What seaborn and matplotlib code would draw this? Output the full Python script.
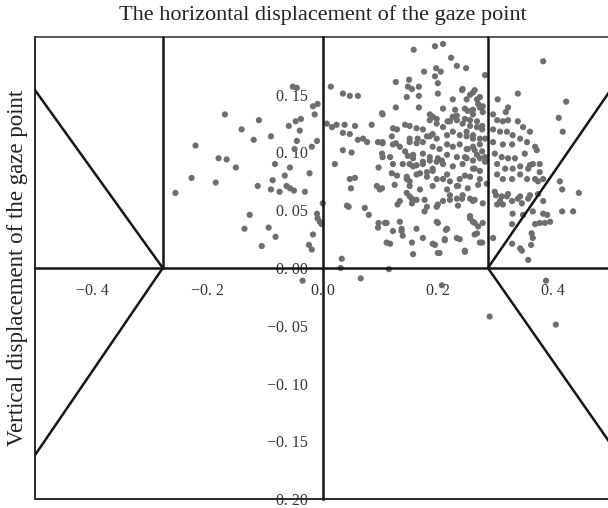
import matplotlib
matplotlib.use("Agg")
import matplotlib.pyplot as plt
import pandas as pd
import seaborn as sns

# ---------------- data ----------------
# gaze points left of the vertical axis
points_left = [(-0.052,0.157),(-0.045,0.156),(-0.170,0.133),(-0.111,0.128),(-0.141,0.120),(-0.120,0.111),
    (-0.090,0.114),(-0.059,0.123),(-0.047,0.127),(-0.038,0.129),(-0.040,0.119),(-0.045,0.110),(-0.017,0.140),
    (-0.009,0.142),(-0.014,0.133),(-0.010,0.110),(-0.019,0.105),(-0.221,0.106),(-0.181,0.095),(-0.167,0.094),
    (-0.151,0.087),(-0.083,0.090),(-0.057,0.087),(-0.066,0.080),(-0.023,0.082),(-0.228,0.078),(-0.186,0.074),
    (-0.113,0.071),(-0.087,0.076),(-0.090,0.068),(-0.075,0.066),(-0.063,0.071),(-0.057,0.069),(-0.050,0.067),
    (-0.031,0.066),(-0.256,0.065),(-0.127,0.046),(-0.094,0.035),(-0.136,0.034),(-0.082,0.027),(-0.106,0.019),
    (-0.017,0.029),(-0.024,0.020),(-0.019,0.016),(-0.010,0.047),(-0.009,0.043),(-0.005,0.040),(-0.002,0.038),
    (-0.049,0.103),(-0.035,-0.011)]

# gaze points between 0 and 0.12
points_center = [(0.014,0.157),(0.035,0.151),(0.047,0.149),(0.061,0.149),(0.007,0.125),(0.016,0.122),
    (0.024,0.124),(0.038,0.124),(0.056,0.123),(0.085,0.124),(0.035,0.117),(0.047,0.116),(0.061,0.111),
    (0.070,0.112),(0.077,0.109),(0.096,0.109),(0.104,0.108),(0.103,0.134),(0.035,0.102),(0.050,0.100),
    (0.021,0.090),(0.097,0.087),(0.047,0.077),(0.056,0.078),(0.049,0.069),(0.094,0.071),(0.099,0.068),
    (0.042,0.054),(0.045,0.053),(0.073,0.052),(0.080,0.046),(0.097,0.039),(0.111,0.039),(0.096,0.035),
    (0.122,0.032),(0.111,0.022),(0.117,0.021),(0.033,0.008),(0.000,0.056),(0.031,0.000),(0.066,-0.009)]

# dense cluster, 0.1 .. 0.29
points_cluster = [(0.209,0.194),(0.195,0.192),(0.158,0.189),(0.223,0.182),(0.233,0.175),(0.249,0.173),
    (0.197,0.173),(0.205,0.170),(0.176,0.170),(0.195,0.166),(0.127,0.161),(0.150,0.163),(0.148,0.157),
    (0.155,0.155),(0.167,0.157),(0.200,0.160),(0.146,0.148),(0.167,0.149),(0.200,0.151),(0.226,0.146),
    (0.127,0.139),(0.167,0.139),(0.209,0.138),(0.230,0.137),(0.186,0.133),(0.191,0.131),(0.198,0.129),
    (0.217,0.127),(0.226,0.131),(0.233,0.132),(0.282,0.167),(0.242,0.154),(0.256,0.150),(0.264,0.154),
    (0.273,0.148),(0.247,0.138),(0.261,0.137),(0.273,0.139),(0.104,0.133),(0.122,0.121),(0.129,0.120),
    (0.143,0.124),(0.151,0.123),(0.163,0.121),(0.174,0.120),(0.120,0.114),(0.127,0.108),(0.103,0.099),
    (0.117,0.096),(0.151,0.112),(0.165,0.112),(0.181,0.114),(0.191,0.116),(0.148,0.097),(0.157,0.095),
    (0.151,0.090),(0.163,0.089),(0.174,0.092),(0.186,0.093),(0.198,0.092),(0.207,0.093),(0.120,0.082),
    (0.129,0.080),(0.146,0.079),(0.151,0.075),(0.169,0.082),(0.181,0.083),(0.191,0.084),(0.209,0.077),
    (0.221,0.075),(0.233,0.071),(0.130,0.055),
    (0.186,0.128),(0.198,0.125),(0.209,0.122),(0.221,0.127),(0.233,0.128),(0.243,0.125),(0.256,0.128),
    (0.268,0.127),(0.277,0.120),(0.104,0.109),(0.122,0.107),(0.134,0.105),(0.151,0.109),(0.163,0.108),
    (0.174,0.109),(0.186,0.114),(0.198,0.112),(0.216,0.115),(0.226,0.118),(0.238,0.115),(0.250,0.118),
    (0.261,0.115),(0.273,0.112),(0.191,0.105),(0.203,0.103),(0.216,0.107),(0.226,0.105),(0.238,0.107),
    (0.250,0.103),(0.261,0.105),(0.273,0.107),(0.143,0.101),(0.157,0.098),(0.174,0.099),(0.186,0.096),
    (0.200,0.095),(0.216,0.098),(0.233,0.096),(0.250,0.095),(0.268,0.098),(0.282,0.096),(0.104,0.096),
    (0.122,0.090),(0.139,0.090),(0.157,0.088),(0.174,0.090),(0.191,0.086),(0.209,0.090),(0.226,0.088),
    (0.243,0.090),(0.261,0.086),(0.146,0.077),(0.163,0.081),(0.181,0.079),(0.198,0.077),(0.216,0.081),
    (0.238,0.077),(0.256,0.079),(0.273,0.077),(0.103,0.069),(0.125,0.072),(0.151,0.071),(0.169,0.068),
    (0.191,0.071),(0.216,0.068),(0.235,0.071),(0.252,0.069),(0.270,0.072),(0.134,0.058),(0.155,0.060),
    (0.177,0.059),(0.200,0.055),(0.221,0.059),(0.242,0.060),(0.264,0.059),(0.278,0.056),(0.108,0.039),
    (0.137,0.034),(0.163,0.034),(0.200,0.039),(0.216,0.034),(0.256,0.043),(0.264,0.039),(0.270,0.036),
    (0.278,0.039),(0.155,0.022),(0.174,0.026),(0.191,0.021),(0.212,0.025),(0.238,0.025),(0.264,0.029),
    (0.273,0.022),(0.157,0.012),(0.203,0.013),(0.247,0.014),
    (0.261,0.152),(0.268,0.146),(0.250,0.146),(0.243,0.155),(0.270,0.142),(0.278,0.140),(0.278,0.135),
    (0.252,0.136),(0.261,0.133),(0.247,0.129),(0.256,0.123),(0.268,0.122),(0.277,0.123),(0.250,0.114),
    (0.261,0.112),(0.282,0.112),(0.252,0.103),(0.264,0.102),(0.277,0.101),(0.247,0.096),(0.261,0.093),
    (0.273,0.095),(0.282,0.092),(0.264,0.086),(0.273,0.084),(0.247,0.080),(0.285,0.073),
    (0.261,0.058),(0.256,0.045),(0.261,0.040),(0.268,0.030),(0.277,0.022),(0.247,0.015),(0.243,0.063),
    (0.256,0.060),
    (0.134,0.040),(0.137,0.032),(0.139,0.028),(0.155,0.056),(0.163,0.059),(0.181,0.053),(0.177,0.049),
    (0.198,0.040),(0.214,0.033),(0.212,0.024),(0.195,0.020),(0.200,0.013),(0.233,0.026),(0.198,0.053),
    (0.209,0.058),(0.221,0.063),(0.233,0.060),(0.235,0.054),(0.146,0.065),(0.151,0.062),(0.115,-0.001),
    (0.207,-0.015)]

# gaze points right of 0.29
points_right = [(0.383,0.179),(0.339,0.151),(0.304,0.146),(0.423,0.144),(0.322,0.139),(0.318,0.135),
    (0.410,0.130),(0.417,0.118),(0.296,0.133),(0.303,0.128),(0.313,0.127),(0.322,0.128),(0.339,0.127),
    (0.348,0.122),(0.360,0.118),(0.369,0.105),(0.296,0.120),(0.308,0.118),(0.320,0.118),(0.330,0.115),
    (0.343,0.112),(0.355,0.109),(0.296,0.109),(0.313,0.107),(0.329,0.107),(0.299,0.099),(0.311,0.096),
    (0.322,0.095),(0.334,0.095),(0.303,0.090),(0.317,0.086),(0.330,0.086),(0.343,0.088),(0.357,0.086),
    (0.365,0.090),(0.377,0.090),(0.303,0.081),(0.313,0.077),(0.329,0.077),(0.343,0.081),(0.355,0.077),
    (0.369,0.077),(0.383,0.077),(0.412,0.075),(0.416,0.068),(0.445,0.065),(0.299,0.066),(0.311,0.062),
    (0.322,0.064),(0.329,0.058),(0.343,0.062),(0.357,0.060),(0.374,0.064),(0.383,0.058),(0.303,0.055),
    (0.313,0.055),(0.416,0.049),(0.435,0.049),(0.330,0.047),(0.348,0.046),(0.365,0.049),(0.383,0.047),
    (0.386,0.039),(0.395,0.040),(0.369,0.038),(0.377,0.039),(0.329,0.038),(0.363,0.030),(0.365,0.026),
    (0.343,0.017),(0.357,0.007),(0.296,0.026),(0.329,0.021),(0.372,0.102),(0.351,0.099),(0.377,0.083),
    (0.374,0.075),(0.360,0.089),(0.390,0.046),(0.362,0.020),(0.346,0.015),(0.388,-0.011),(0.290,-0.042),
    (0.405,-0.049),(0.301,0.063),(0.308,0.058),(0.320,0.062),(0.339,0.060),(0.346,0.056),(0.360,0.063)]

# axis ticks
x_ticks = [-0.4, -0.2, 0.0, 0.2, 0.4]
x_tick_labels = ["\u22120. 4", "\u22120. 2", "0. 0", "0. 2", "0. 4"]
y_ticks = [-0.20, -0.15, -0.10, -0.05, 0.00, 0.05, 0.10, 0.15]
y_tick_labels = ["\u22120. 20", "\u22120. 15", "\u22120. 10", "\u22120. 05",
                 "0. 00", "0. 05", "0. 10", "0. 15"]
x_range = (-0.5, 0.5)
y_range = (-0.2, 0.2)

# region guide lines (screen perspective frame)
guide_vertical_x = [-0.278, 0.287]
guide_upper_left = ([-0.5, -0.278], [0.154, 0.0])
guide_lower_left = ([-0.5, -0.278], [-0.162, 0.0])
guide_upper_right = ([0.287, 0.5], [0.0, 0.154])
guide_lower_right = ([0.287, 0.5], [0.0, -0.152])

title_text = "The horizontal displacement of the gaze point"
ylabel_text = "Vertical displacement of the gaze point"

# ---------------- figure ----------------
sns.set_style("white")
plt.rcParams["font.family"] = ["Liberation Serif", "DejaVu Serif"]

all_pts = points_left + points_center + points_cluster + points_right
df = pd.DataFrame(all_pts, columns=["x", "y"])

fig = plt.figure(figsize=(6.08, 5.08), dpi=100)
ax = fig.add_axes([35 / 608, 9 / 508, 575.5 / 608, 462 / 508])

sns.scatterplot(data=df, x="x", y="y", ax=ax, color="#6e6e6e", s=20,
                edgecolor="none", linewidth=0, legend=False, zorder=2)

ax.set_xlim(*x_range)
ax.set_ylim(*y_range)
ax.set_xlabel("")
ax.set_ylabel("")

line_col = "#151515"
for sp in ["left", "bottom"]:
    ax.spines[sp].set_position(("data", 0))
    ax.spines[sp].set_linewidth(1.8)
    ax.spines[sp].set_color(line_col)
    ax.spines[sp].set_zorder(3)
ax.spines["right"].set_visible(False)
ax.spines["top"].set_linewidth(1.2)
ax.spines["top"].set_color("#3a3a3a")

# outer frame (left and bottom edges)
ax.plot([0, 0], [0, 1], transform=ax.transAxes, color="#2a2a2a", lw=1.4, clip_on=False, zorder=3)
ax.plot([0, 1], [0, 0], transform=ax.transAxes, color="#2a2a2a", lw=1.4, clip_on=False, zorder=3)

# guide lines
for gx in guide_vertical_x:
    ax.plot([gx, gx], [0, y_range[1]], color=line_col, lw=1.8, zorder=3, clip_on=False)
for gxs, gys in [guide_upper_left, guide_lower_left, guide_upper_right, guide_lower_right]:
    ax.plot(gxs, gys, color=line_col, lw=1.8, zorder=3)

ax.set_xticks(x_ticks)
ax.set_xticklabels(x_tick_labels)
ax.set_yticks(y_ticks)
ax.set_yticklabels(y_tick_labels)
ax.tick_params(axis="both", length=0, labelsize=11.5, labelcolor="#333333")
ax.tick_params(axis="x", pad=11)
ax.tick_params(axis="y", pad=11)

fig.text(323 / 608, 1 - 15 / 508, title_text, ha="center", va="center",
         fontsize=16, color="#222222")
fig.text(18 / 608, 1 - 268 / 508, ylabel_text, ha="center", va="center",
         rotation=90, fontsize=16.5, color="#222222")

fig.savefig("out.png", dpi=100)
